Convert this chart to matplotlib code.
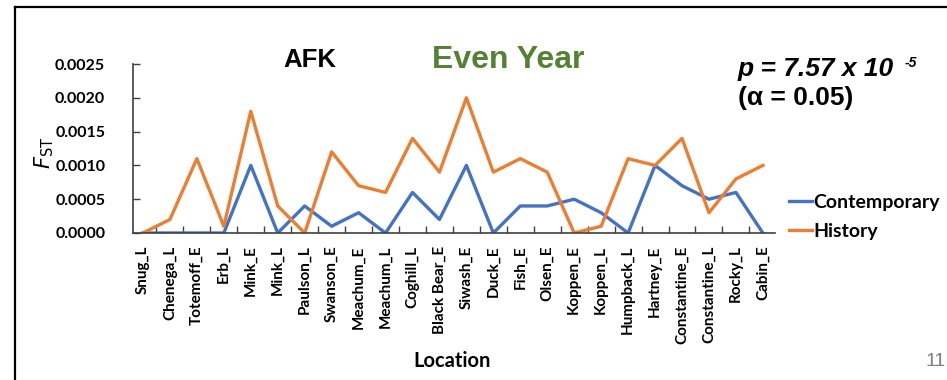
import matplotlib.pyplot as plt
from matplotlib.lines import Line2D

locations = ["Snug_L", "Chenega_L", "Totemoff_E", "Erb_L", "Mink_E", "Mink_L",
             "Paulson_L", "Swanson_E", "Meachum_E", "Meachum_L", "Coghill_L",
             "Black Bear_E", "Siwash_E", "Duck_E", "Fish_E", "Olsen_E",
             "Koppen_E", "Koppen_L", "Humpback_L", "Hartney_E", "Constantine_E",
             "Constantine_L", "Rocky_L", "Cabin_E"]
contemporary = [0, 0, 0, 0, 0.0010, 0, 0.0004, 0.0001, 0.0003, 0, 0.0006, 0.0002,
                0.0010, 0, 0.0004, 0.0004, 0.0005, 0.0003, 0, 0.0010, 0.0007,
                0.0005, 0.0006, 0]
history = [0, 0.0002, 0.0011, 0.0001, 0.0018, 0.0004, 0, 0.0012, 0.0007, 0.0006,
           0.0014, 0.0009, 0.0020, 0.0009, 0.0011, 0.0009, 0, 0.0001, 0.0011,
           0.0010, 0.0014, 0.0003, 0.0008, 0.0010]
yticks = [0, 0.0005, 0.0010, 0.0015, 0.0020, 0.0025]

W, H = 947, 380
fig = plt.figure(figsize=(W/100, H/100), dpi=100)
ax = fig.add_axes([133/W, 1 - 233/H, 642/W, 169/H])

x = list(range(len(locations)))
ax.plot(x, contemporary, color="#4472C4", lw=2.4, label="Contemporary")
ax.plot(x, history, color="#ED7D31", lw=2.4, label="History")

ax.set_xlim(-0.37, 23.45)
ax.set_ylim(0, 0.0025)
ax.set_yticks(yticks)
ax.set_yticklabels(["%.4f" % v for v in yticks], fontfamily="Lato",
                   fontweight="bold", fontsize=11.5)
ax.set_xticks(x)
ax.set_xticklabels(locations, rotation=90, fontfamily="Lato",
                   fontweight="bold", fontsize=11)
ax.set_xticks([i + 0.5 for i in range(len(locations) - 1)], minor=True)
ax.tick_params(axis="x", which="major", length=0, pad=9)
ax.tick_params(axis="x", which="minor", direction="in", length=5, width=1,
               color="#404040")
ax.tick_params(axis="y", direction="in", length=5, width=1, color="#404040", pad=20)
for s in ["top", "right"]:
    ax.spines[s].set_visible(False)
for s in ["left", "bottom"]:
    ax.spines[s].set_color("#404040")
    ax.spines[s].set_linewidth(1.2)
ax.patch.set_alpha(0)

leg = ax.legend(loc="center left", bbox_to_anchor=((789 - 133)/642, 0.095),
                frameon=False, handlelength=1.2, handletextpad=0.05,
                labelspacing=0.6, borderaxespad=0, borderpad=0,
                prop={"family": "Lato", "weight": "bold", "size": 14})

fig.text(44/W, 1 - 153/H, r"$F_{\mathrm{ST}}$", rotation=90, ha="center",
         va="center", fontsize=15)
fig.text(452/W, 1 - 361/H, "Location", ha="center", va="center",
         fontfamily="Lato", fontweight="bold", fontsize=14.5)
fig.text(310/W, 1 - 60/H, "AFK", ha="center", va="center",
         fontfamily="Liberation Sans", fontweight="bold", fontsize=18.5)
fig.text(508/W, 1 - 60/H, "Even Year", ha="center", va="center",
         fontfamily="Liberation Sans", fontweight="bold", fontsize=23,
         color="#548235")
fig.text(738/W, 1 - 76/H, "p = 7.57 x 10", ha="left", va="baseline",
         fontfamily="Liberation Sans", fontweight="bold", style="italic",
         fontsize=19)
fig.text(905/W, 1 - 63/H, "-5", ha="left", va="center",
         fontfamily="Liberation Sans", fontweight="bold", style="italic",
         fontsize=10)
fig.text(738/W, 1 - 98/H, "(\u03b1 = 0.05)", ha="left", va="center",
         fontfamily="Liberation Sans", fontweight="bold", fontsize=19)
fig.text(925/W, 1 - 361/H, "11", ha="left", va="center", color="#7f7f7f",
         fontfamily="Liberation Sans", fontsize=14)

# slide frame
fig.add_artist(Line2D([15/W, 15/W], [0, 1 - 7/H], color="black", lw=1.6))
fig.add_artist(Line2D([15/W, 1], [1 - 7/H, 1 - 7/H], color="black", lw=1.6))

fig.savefig("out.png", dpi=100)
